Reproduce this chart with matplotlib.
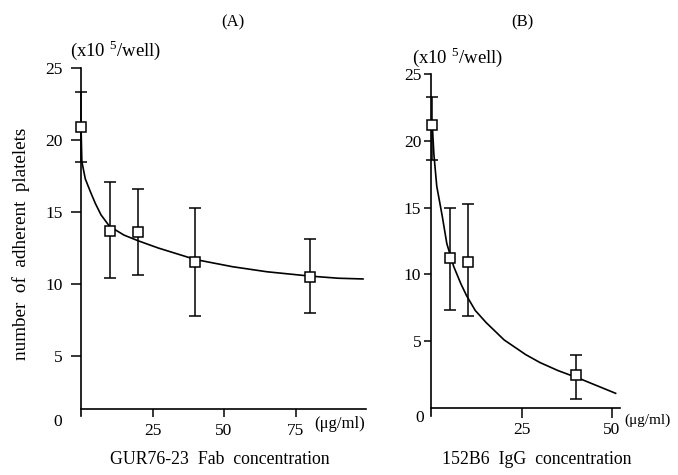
import matplotlib
matplotlib.use("Agg")
import matplotlib.pyplot as plt

plt.rcParams['font.family'] = ['Liberation Serif', 'DejaVu Serif']
plt.rcParams['mathtext.fontset'] = 'custom'
plt.rcParams['mathtext.rm'] = 'Liberation Serif'

# --- panel A: GUR76-23 Fab ---
conc_a = [0, 10, 20, 40, 80]
mean_a = [20.9, 13.7, 13.6, 11.5, 10.5]
hi_a = [23.3, 17.1, 16.6, 15.3, 13.1]
lo_a = [18.5, 10.4, 10.6, 7.8, 8.0]
curve_xa = [0, 0.3, 1.5, 3.3, 5, 7, 10, 15, 20, 27, 40, 53, 65, 80, 90, 98.6]
curve_ya = [21.0, 18.5, 17.3, 16.4, 15.6, 14.8, 14.0, 13.4, 13.0, 12.5,
            11.7, 11.2, 10.85, 10.55, 10.4, 10.35]

# --- panel B: 152B6 IgG ---
conc_b = [0, 5, 10, 40]
mean_b = [21.2, 11.2, 10.9, 2.5]
hi_b = [23.3, 15.0, 15.3, 4.0]
lo_b = [18.6, 7.3, 6.9, 0.7]
curve_xb = [0, 0.5, 1.3, 2.8, 4.1, 6, 8, 9.6, 12, 15, 20, 26, 30, 35, 41,
            46, 51]
curve_yb = [21.5, 19.0, 16.6, 14.4, 12.3, 10.6, 9.3, 8.4, 7.3, 6.4, 5.1,
            4.0, 3.4, 2.8, 2.2, 1.65, 1.1]

W, H = 678, 475
fig = plt.figure(figsize=(W / 100, H / 100), dpi=100)


def px_axes(left, right, top, bottom):
    return fig.add_axes([left / W, 1 - bottom / H, (right - left) / W,
                         (bottom - top) / H])


def dibujar(ax, cx, cy, x, m, hi, lo):
    ax.plot(cx, cy, color='black', lw=1.2, zorder=2, clip_on=False)
    err = [[a - b for a, b in zip(m, lo)], [b - a for a, b in zip(m, hi)]]
    ax.errorbar(x, m, yerr=err, fmt='none', ecolor='black', elinewidth=1.1,
                capsize=4, capthick=1.1, zorder=3, clip_on=False)
    ax.plot(x, m, 's', ms=7, mfc='white', mec='black', mew=1.1, zorder=4,
            clip_on=False)
    for s in ['top', 'right']:
        ax.spines[s].set_visible(False)
    for s in ['left', 'bottom']:
        ax.spines[s].set_linewidth(1.2)


# panel A
axa = px_axes(81, 81 + 99.5 * 2.86, 428 - 25 * 14.4, 428 - 0.8 * 14.4)
dibujar(axa, curve_xa, curve_ya, conc_a, mean_a, hi_a, lo_a)
axa.set_xlim(0, 99.5)
axa.set_ylim(0.8, 25)
axa.spines['bottom'].set_position(('data', 1.3))
axa.set_yticks([5, 10, 15, 20, 25])
axa.set_xticks([25, 50, 75])
axa.tick_params(axis='y', length=7, width=1.1, pad=6, labelsize=12.5)
axa.tick_params(axis='x', length=6, width=1.1, pad=4, labelsize=12.5)

# panel B
axb = px_axes(431, 432 + 52.3 * 3.6, 408 - 25 * 13.36, 408 + 0.6 * 13.36)
dibujar(axb, curve_xb, curve_yb, conc_b, mean_b, hi_b, lo_b)
axb.set_xlim(-0.3, 52.3)
axb.set_ylim(-0.6, 25)
axb.spines['bottom'].set_position(('data', 0))
axb.set_yticks([5, 10, 15, 20, 25])
axb.set_xticks([25, 50])
axb.tick_params(axis='y', length=5, width=1.1, pad=2, labelsize=12.5)
axb.tick_params(axis='x', length=7, width=1.1, pad=3, labelsize=12.5)


def ftext(x, y, s, **kw):
    fig.text(x / W, 1 - y / H, s, **kw)


# textos
ftext(233, 22, "(A)", ha='center', va='center', fontsize=12)
ftext(522, 22, "(B)", ha='center', va='center', fontsize=12)
ftext(70, 50, "(x10 $^{5}$/well)", ha='left', va='center', fontsize=13.5)
ftext(412, 57, "(x10 $^{5}$/well)", ha='left', va='center', fontsize=13.5)
ftext(58, 422, "0", ha='center', va='center', fontsize=12.5)
ftext(420, 418, "0", ha='center', va='center', fontsize=12.5)
ftext(314, 424, "(μg/ml)", ha='left', va='center', fontsize=12)
ftext(624, 420, "(μg/ml)", ha='left', va='center', fontsize=11)
ftext(21, 244, "number  of  adherent  platelets", rotation=90,
      ha='center', va='center', fontsize=13.8)
ftext(220, 459, "GUR76-23  Fab  concentration", ha='center', va='center',
      fontsize=12.8)
ftext(537, 459, "152B6  IgG  concentration", ha='center', va='center',
      fontsize=12.8)

fig.savefig("out.png", dpi=100)
